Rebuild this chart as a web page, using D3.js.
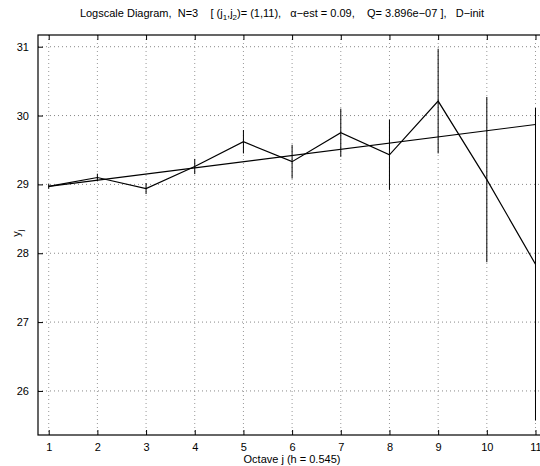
<!DOCTYPE html>
<html>
<head>
<meta charset="utf-8">
<script src="https://cdn.jsdelivr.net/npm/d3@7"></script>
<style>
  body { margin: 0; background: #fff; }
  svg text { font-family: "Liberation Sans", Arial, sans-serif; fill: #000; }
</style>
</head>
<body>
<svg id="chart" width="540" height="466"></svg>
<script>
// octaves and estimated log-variance values
const octaves = [1, 2, 3, 4, 5, 6, 7, 8, 9, 10, 11];
const yj = [28.97, 29.10, 28.94, 29.26, 29.62, 29.33, 29.75, 29.43, 30.21, 29.07, 27.84];
const errHalf = [0.035, 0.055, 0.08, 0.11, 0.17, 0.245, 0.35, 0.51, 0.76, 1.2, 2.27];
// regression line end points (j1, j2)
const fitJ = [1, 11];
const fitY = [28.97, 29.87];
const xTicks = [1, 2, 3, 4, 5, 6, 7, 8, 9, 10, 11];
const yTicks = [26, 27, 28, 29, 30, 31];

const svg = d3.select('#chart');
// right border of the axes box falls just outside the picture
const mLeft = 38, mRight = 541, mTop = 35, mBottom = 435;

const x = d3.scaleLinear().domain([0.78, 11.113]).range([mLeft, mRight]);
const y = d3.scaleLinear().domain([25.36, 31.17]).range([mBottom, mTop]);

// grid
const grid = svg.append('g');
grid.selectAll('.gx').data(xTicks).enter().append('line')
    .attr('x1', d => x(d)).attr('x2', d => x(d))
    .attr('y1', mTop).attr('y2', mBottom)
    .attr('stroke', '#999').attr('stroke-dasharray', '1,3');
grid.selectAll('.gy').data(yTicks).enter().append('line')
    .attr('x1', mLeft).attr('x2', mRight)
    .attr('y1', d => y(d)).attr('y2', d => y(d))
    .attr('stroke', '#888').attr('stroke-dasharray', '1,3');

// axes (ticks pointing inwards)
svg.append('g')
    .attr('transform', 'translate(0,' + mBottom + ')')
    .call(d3.axisBottom(x).tickValues(xTicks).tickSize(-5).tickPadding(8).tickFormat(d3.format('d')))
    .call(g => g.select('.domain').remove());
svg.append('g')
    .attr('transform', 'translate(0,' + mTop + ')')
    .call(d3.axisTop(x).tickValues(xTicks).tickSize(-5).tickFormat(''))
    .call(g => g.select('.domain').remove());
svg.append('g')
    .attr('transform', 'translate(' + mLeft + ',0)')
    .call(d3.axisLeft(y).tickValues(yTicks).tickSize(-5).tickPadding(9).tickFormat(d3.format('d')))
    .call(g => g.select('.domain').remove());
svg.selectAll('.tick text').attr('font-size', 11);
svg.selectAll('.tick line').attr('stroke', '#000');

svg.append('rect')
    .attr('x', mLeft).attr('y', mTop)
    .attr('width', mRight - mLeft).attr('height', mBottom - mTop)
    .attr('fill', 'none').attr('stroke', '#000').attr('stroke-width', 1.2);

// error bars
const pts = octaves.map((j, i) => ({ j: j, v: yj[i], e: errHalf[i] }));
svg.append('g').selectAll('line').data(pts).enter().append('line')
    .attr('x1', d => x(d.j)).attr('x2', d => x(d.j))
    .attr('y1', d => y(d.v + d.e)).attr('y2', d => y(d.v - d.e))
    .attr('stroke', '#000').attr('stroke-width', 1);

// data line
const line = d3.line().x(d => x(d.j)).y(d => y(d.v));
svg.append('path').datum(pts)
    .attr('fill', 'none').attr('stroke', '#000').attr('stroke-width', 1.2)
    .attr('d', line);

// fit line
svg.append('path').datum(fitJ.map((j, i) => ({ j: j, v: fitY[i] })))
    .attr('fill', 'none').attr('stroke', '#000').attr('stroke-width', 1.2)
    .attr('d', line);

// title
const title = svg.append('text')
    .attr('x', 282).attr('y', 17).attr('text-anchor', 'middle').attr('font-size', 11)
    .attr('xml:space', 'preserve');
title.append('tspan').text('Logscale Diagram,  N=3    [ (j');
title.append('tspan').attr('font-size', 8).attr('dy', 3).text('1');
title.append('tspan').attr('dy', -3).text(',j');
title.append('tspan').attr('font-size', 8).attr('dy', 3).text('2');
title.append('tspan').attr('dy', -3).text(')= (1,11),   α−est = 0.09,    Q= 3.896e−07 ],   D−init');

// x label
svg.append('text')
    .attr('x', 292).attr('y', 463).attr('text-anchor', 'middle').attr('font-size', 11)
    .text('Octave j (h = 0.545)');

// y label
const yl = svg.append('text')
    .attr('transform', 'translate(20,233) rotate(-90)')
    .attr('text-anchor', 'middle').attr('font-size', 11);
yl.append('tspan').text('y');
yl.append('tspan').attr('font-size', 8).attr('dy', 3).text('j');
</script>
</body>
</html>
